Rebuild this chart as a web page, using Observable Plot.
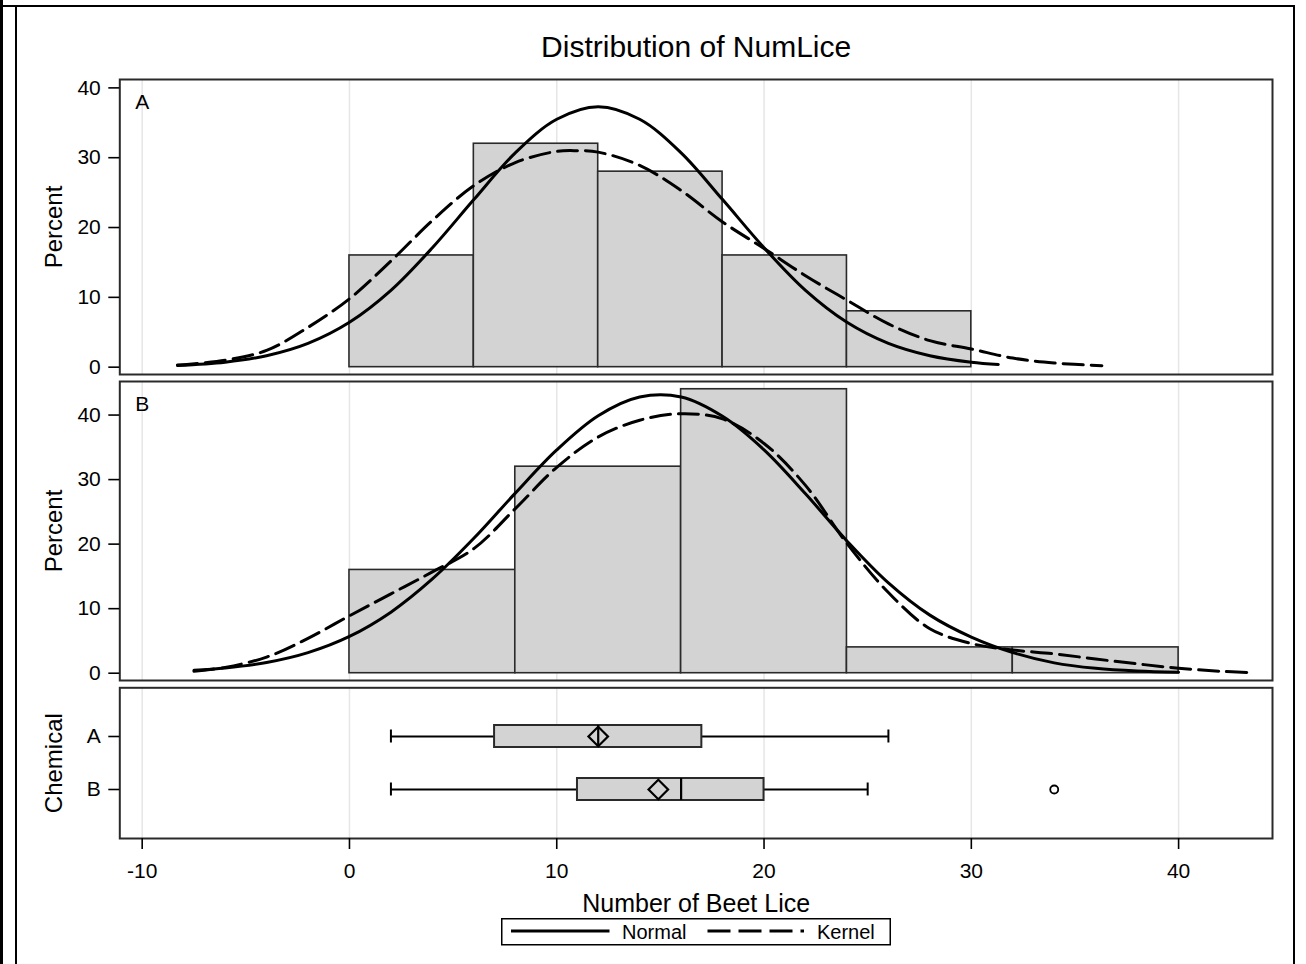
<!DOCTYPE html>
<html>
<head>
<meta charset="utf-8">
<script src="https://cdn.jsdelivr.net/npm/d3@7"></script>
<script src="https://cdn.jsdelivr.net/npm/@observablehq/plot@0.6"></script>
<style>
  html, body { margin: 0; padding: 0; background: #fff; width: 1306px; height: 964px; overflow: hidden; }
  body { position: relative; font-family: 'Liberation Sans', Arial, Helvetica, sans-serif; }
  .abs { position: absolute; }
</style>
</head>
<body>
<div class="abs" style="left:0;top:0;width:3px;height:964px;background:#000"></div>
<div class="abs" style="left:0;top:5px;width:17px;height:2px;background:#000"></div>
<div class="abs" style="left:15px;top:5px;width:1280px;height:990px;border:2px solid #000;border-bottom:none;box-sizing:border-box"></div>
<div id="pA" class="abs" style="left:0;top:0"></div>
<div id="pB" class="abs" style="left:0;top:374px"></div>
<div id="pC" class="abs" style="left:0;top:680px"></div>
<div id="legend" class="abs" style="left:501px;top:918px"></div>
<script>
// ---------------- data ----------------
const chartTitle = "Distribution of NumLice";
const xLabel = "Number of Beet Lice";
const yLabel = "Percent";
const boxLabel = "Chemical";
const xTicks = [-10, 0, 10, 20, 30, 40];
const yTicks = [0, 10, 20, 30, 40];
const seriesNames = ["Normal", "Kernel"];

// Histogram, chemical A (bin edges, percent)
const binStartA = [0, 6, 12, 18, 24];
const binEndA = [6, 12, 18, 24, 30];
const pctA = [16, 32, 28, 16, 8];
// Histogram, chemical B
const binStartB = [0, 8, 16, 24, 32];
const binEndB = [8, 16, 24, 32, 40];
const pctB = [16, 32, 44, 4, 4];

// Fitted normal curve, A
const normalAx = [-8.3, -6, -4, -2, 0, 2, 4, 6, 8, 10, 12, 14, 16, 18, 20, 22, 24, 26, 28, 30, 31.3];
const normalAy = [0.24, 0.71, 1.64, 3.41, 6.43, 11.0, 17.1, 24.0, 30.7, 35.5, 37.3, 35.5, 30.7, 24.0, 17.1, 11.0, 6.43, 3.41, 1.64, 0.71, 0.39];
// Kernel density, A
const kernelAx = [-8.3, -6, -4, -2, 0, 2, 4, 6, 8, 10, 11, 12, 14, 16, 18, 20, 22, 24, 26, 28, 30, 32, 34, 36.3];
const kernelAy = [0.3, 1.0, 2.4, 5.7, 9.8, 15.2, 21.0, 26.0, 29.3, 30.9, 31.0, 30.8, 28.9, 25.3, 20.8, 17.0, 13.1, 9.6, 6.2, 3.8, 2.6, 1.3, 0.6, 0.2];
// Fitted normal curve, B
const normalBx = [-7.5, -6, -4, -2, 0, 2, 4, 6, 8, 10, 12, 14, 16, 18, 20, 22, 24, 26, 28, 30, 32, 34, 36, 38, 40];
const normalBy = [0.45, 0.81, 1.66, 3.19, 5.7, 9.46, 14.6, 20.9, 27.9, 34.6, 39.9, 42.8, 42.8, 39.8, 34.6, 27.8, 20.5, 14.0, 9.0, 5.6, 3.2, 1.6, 0.75, 0.33, 0.14];
// Kernel density, B
const kernelBx = [-7.5, -6, -4, -2, 0, 2, 4, 6, 8, 10, 12, 14, 16, 18, 20, 22, 24, 26, 28, 30, 32, 34, 36, 38, 40, 42, 43.5];
const kernelBy = [0.3, 0.9, 2.5, 5.4, 8.9, 12.3, 15.7, 19.3, 25.5, 31.9, 36.6, 39.2, 40.2, 39.4, 35.6, 29.1, 20.1, 12.5, 6.9, 4.6, 3.6, 3.0, 2.2, 1.45, 0.78, 0.3, 0.1];

// Box plot summary per chemical
const chemicals = ["A", "B"];
const whiskerLow = [2, 2];
const q1 = [7, 11];
const median = [12, 16];
const mean = [12, 14.9];
const q3 = [17, 20];
const whiskerHigh = [26, 25];
const outlierChem = ["B"];
const outlierVal = [34];

// ---------------- drawing ----------------
const FONT = "'Liberation Sans', Arial, Helvetica, sans-serif";
const xDomain = [-11.08, 44.53];
const idx = (a) => a.map((_, i) => i);
const common = {
  width: 1306,
  marginLeft: 119.3,
  marginRight: 34,
  style: {background: "transparent", fontFamily: FONT, fontSize: "21px", color: "black", overflow: "visible"}
};
const gridColor = "#e6e6e6";
const barFill = "#d3d3d3";
const edge = "#2a2a2a";
const dash = "20,8";
const lineW = 3;

function histPanel({label, starts, ends, pcts, nx, ny, kx, ky, height, marginTop, yDomain, extra = []}) {
  return Plot.plot({
    ...common,
    height, marginTop, marginBottom: 0,
    x: {domain: xDomain, axis: null},
    y: {domain: yDomain},
    marks: [
      Plot.ruleX(xTicks, {stroke: gridColor, strokeWidth: 1.5}),
      Plot.rect(idx(pcts), {x1: (i) => starts[i], x2: (i) => ends[i], y1: 0, y2: (i) => pcts[i], fill: barFill, stroke: edge, strokeWidth: 1.6}),
      Plot.line(idx(nx), {x: (i) => nx[i], y: (i) => ny[i], curve: "catmull-rom", stroke: "black", strokeWidth: lineW}),
      Plot.line(idx(kx), {x: (i) => kx[i], y: (i) => ky[i], curve: "catmull-rom", stroke: "black", strokeWidth: lineW, strokeDasharray: dash}),
      Plot.frame({stroke: edge, strokeWidth: 2}),
      Plot.axisY(yTicks, {tickSize: 11, tickPadding: 8, fontSize: 21, label: null, strokeWidth: 1.6, tickFormat: (d) => String(d)}),
      Plot.text([yLabel], {frameAnchor: "left", rotate: -90, dx: -75, lineAnchor: "top", textAnchor: "middle", fontSize: 24}),
      Plot.text([label], {frameAnchor: "top-left", dx: 15.5, dy: 14.5, lineAnchor: "top", textAnchor: "start", fontSize: 21}),
      ...extra
    ]
  });
}

document.getElementById("pA").append(histPanel({
  label: chemicals[0], starts: binStartA, ends: binEndA, pcts: pctA,
  nx: normalAx, ny: normalAy, kx: kernelAx, ky: kernelAy,
  height: 374, marginTop: 79, yDomain: [-1.05, 41.2],
  extra: [Plot.text([chartTitle], {frameAnchor: "top", dy: -22.3, lineAnchor: "bottom", fontSize: 30})]
}));

document.getElementById("pB").append(histPanel({
  label: chemicals[1], starts: binStartB, ends: binEndB, pcts: pctB,
  nx: normalBx, ny: normalBy, kx: kernelBx, ky: kernelBy,
  height: 306, marginTop: 7, yDomain: [-1.13, 45.2]
}));

const ci = idx(chemicals);
document.getElementById("pC").append(Plot.plot({
  ...common,
  height: 284, marginTop: 7.3, marginBottom: 126,
  x: {domain: xDomain},
  y: {type: "band", domain: chemicals, paddingInner: 0.594, paddingOuter: 0.708},
  marks: [
    Plot.ruleX(xTicks, {stroke: gridColor, strokeWidth: 1.5}),
    Plot.ruleY(ci, {y: (i) => chemicals[i], x1: (i) => whiskerLow[i], x2: (i) => q1[i], stroke: "black", strokeWidth: 1.8}),
    Plot.ruleY(ci, {y: (i) => chemicals[i], x1: (i) => q3[i], x2: (i) => whiskerHigh[i], stroke: "black", strokeWidth: 1.8}),
    Plot.tickX(ci, {x: (i) => whiskerLow[i], y: (i) => chemicals[i], insetTop: 4.5, insetBottom: 4.5, stroke: "black", strokeWidth: 2}),
    Plot.tickX(ci, {x: (i) => whiskerHigh[i], y: (i) => chemicals[i], insetTop: 4.5, insetBottom: 4.5, stroke: "black", strokeWidth: 2}),
    Plot.barX(ci, {x1: (i) => q1[i], x2: (i) => q3[i], y: (i) => chemicals[i], fill: barFill, stroke: edge, strokeWidth: 2}),
    Plot.dot(ci, {x: (i) => mean[i], y: (i) => chemicals[i], symbol: "square", rotate: 45, r: 7.8, fill: "none", stroke: "black", strokeWidth: 2.2}),
    Plot.tickX(ci, {x: (i) => median[i], y: (i) => chemicals[i], stroke: "black", strokeWidth: 2.2}),
    Plot.dot(idx(outlierVal), {x: (i) => outlierVal[i], y: (i) => outlierChem[i], r: 4, fill: "none", stroke: "black", strokeWidth: 1.8}),
    Plot.frame({stroke: edge, strokeWidth: 2}),
    Plot.axisY({tickSize: 11, tickPadding: 8, fontSize: 21, label: null, strokeWidth: 1.6}),
    Plot.axisX(xTicks, {tickSize: 11, tickPadding: 14, fontSize: 21, label: null, strokeWidth: 1.6, tickFormat: (d) => String(d)}),
    Plot.text([boxLabel], {frameAnchor: "left", rotate: -90, dx: -75, lineAnchor: "top", textAnchor: "middle", fontSize: 24}),
    Plot.text([xLabel], {frameAnchor: "bottom", dy: 73.7, lineAnchor: "bottom", fontSize: 25})
  ]
}));

// ---------------- legend ----------------
const lg = d3.select("#legend").append("svg")
  .attr("width", 390).attr("height", 28)
  .style("display", "block")
  .style("font-family", FONT).style("font-size", "20px");
lg.append("rect").attr("x", 0.75).attr("y", 0.75).attr("width", 388.5).attr("height", 26)
  .attr("fill", "white").attr("stroke", "black").attr("stroke-width", 1.5);
const legendItems = [
  {name: seriesNames[0], x0: 10, x1: 108.5, tx: 121, dashArr: null},
  {name: seriesNames[1], x0: 206.5, x1: 303, tx: 316, dashArr: "23,8"}
];
for (const it of legendItems) {
  const l = lg.append("line").attr("x1", it.x0).attr("x2", it.x1).attr("y1", 13).attr("y2", 13)
    .attr("stroke", "black").attr("stroke-width", lineW);
  if (it.dashArr) l.attr("stroke-dasharray", it.dashArr);
  lg.append("text").attr("x", it.tx).attr("y", 20.5).text(it.name);
}
</script>
</body>
</html>
